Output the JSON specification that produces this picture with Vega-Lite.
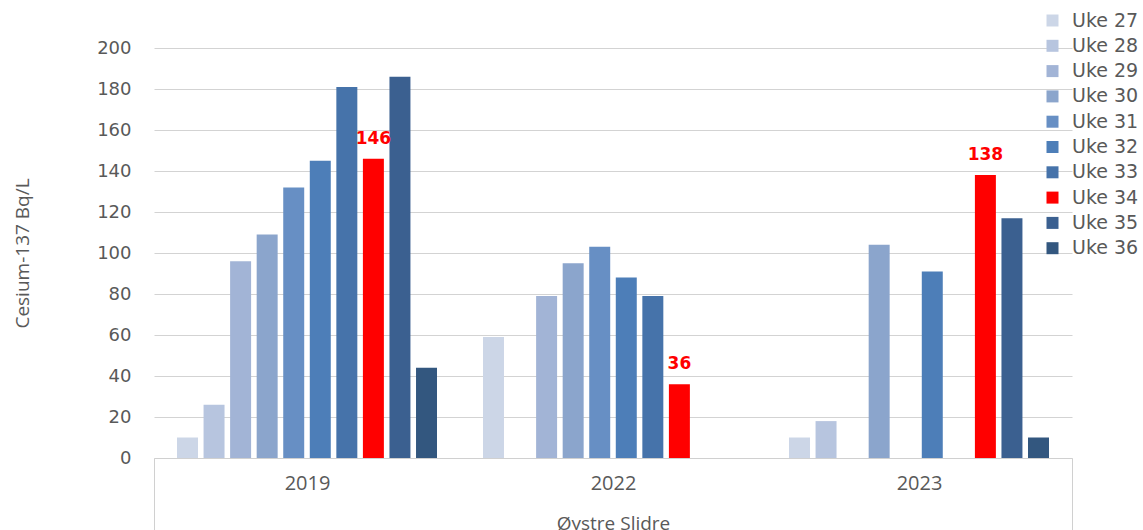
{
  "$schema": "https://vega.github.io/schema/vega-lite/v6.json",
  "width": 918,
  "height": 410,
  "autosize": "none",
  "padding": {"left": 154, "top": 48, "right": 71, "bottom": 72},
  "background": "white",
  "config": {
    "view": {"stroke": null},
    "font": "DejaVu Sans"
  },
  "data": {
    "values": [
      {"year": "2019", "uke": "Uke 27", "value": 10},
      {"year": "2019", "uke": "Uke 28", "value": 26},
      {"year": "2019", "uke": "Uke 29", "value": 96},
      {"year": "2019", "uke": "Uke 30", "value": 109},
      {"year": "2019", "uke": "Uke 31", "value": 132},
      {"year": "2019", "uke": "Uke 32", "value": 145},
      {"year": "2019", "uke": "Uke 33", "value": 181},
      {"year": "2019", "uke": "Uke 34", "value": 146},
      {"year": "2019", "uke": "Uke 35", "value": 186},
      {"year": "2019", "uke": "Uke 36", "value": 44},
      {"year": "2022", "uke": "Uke 27", "value": 59},
      {"year": "2022", "uke": "Uke 29", "value": 79},
      {"year": "2022", "uke": "Uke 30", "value": 95},
      {"year": "2022", "uke": "Uke 31", "value": 103},
      {"year": "2022", "uke": "Uke 32", "value": 88},
      {"year": "2022", "uke": "Uke 33", "value": 79},
      {"year": "2022", "uke": "Uke 34", "value": 36},
      {"year": "2023", "uke": "Uke 27", "value": 10},
      {"year": "2023", "uke": "Uke 28", "value": 18},
      {"year": "2023", "uke": "Uke 30", "value": 104},
      {"year": "2023", "uke": "Uke 32", "value": 91},
      {"year": "2023", "uke": "Uke 34", "value": 138},
      {"year": "2023", "uke": "Uke 35", "value": 117},
      {"year": "2023", "uke": "Uke 36", "value": 10}
    ]
  },
  "encoding": {
    "x": {
      "field": "year",
      "type": "nominal",
      "scale": {"paddingInner": 0, "paddingOuter": 0},
      "axis": {
        "title": "Øystre Slidre",
        "titleFont": "Open Sans",
        "titleFontSize": 19,
        "titleFontWeight": "normal",
        "titleColor": "#595959",
        "titlePadding": -16,
        "labelAngle": 0,
        "labelFont": "Open Sans",
        "labelFontSize": 20,
        "labelColor": "#595959",
        "labelPadding": -57,
        "domainColor": "#d0d0d0",
        "domainWidth": 1,
        "tickBand": "extent",
        "tickSize": 72,
        "tickColor": "#d0d0d0",
        "tickWidth": 1,
        "tickOpacity": {"condition": {"test": "datum.value === '2019' || datum.value === '2022'", "value": 0}, "value": 1}
      }
    },
    "xOffset": {
      "field": "uke",
      "type": "nominal",
      "scale": {
        "domain": ["Uke 27", "Uke 28", "Uke 29", "Uke 30", "Uke 31", "Uke 32", "Uke 33", "Uke 34", "Uke 35", "Uke 36"],
        "paddingInner": 0.21,
        "paddingOuter": 0.866
      }
    },
    "y": {
      "field": "value",
      "type": "quantitative",
      "scale": {"domain": [0, 200]},
      "axis": {
        "title": "Cesium-137 Bq/L",
        "titleFont": "Open Sans",
        "titleFontSize": 19,
        "titleFontWeight": "normal",
        "titleColor": "#595959",
        "titlePadding": 64,
        "values": [0, 20, 40, 60, 80, 100, 120, 140, 160, 180, 200],
        "labelFont": "DejaVu Sans",
        "labelFontSize": 18,
        "labelColor": "#595959",
        "labelPadding": 23,
        "ticks": false,
        "domain": false,
        "gridColor": "#d3d3d3",
        "gridWidth": 1
      }
    }
  },
  "layer": [
    {
      "mark": {"type": "bar"},
      "encoding": {
        "color": {
          "field": "uke",
          "type": "nominal",
          "scale": {
            "domain": ["Uke 27", "Uke 28", "Uke 29", "Uke 30", "Uke 31", "Uke 32", "Uke 33", "Uke 34", "Uke 35", "Uke 36"],
            "range": ["#ccd6e7", "#b7c5df", "#a2b4d6", "#8ba5cc", "#678fc4", "#4d7eb8", "#4673aa", "#ff0000", "#3b6090", "#33577f"]
          },
          "legend": {
            "title": null,
            "orient": "none",
            "legendX": 889,
            "legendY": -37,
            "symbolType": "square",
            "symbolSize": 144,
            "symbolStrokeWidth": 0,
            "labelFont": "DejaVu Sans",
            "labelFontSize": 19,
            "labelColor": "#595959",
            "labelOffset": 10,
            "rowPadding": 5.3
          }
        }
      }
    },
    {
      "transform": [{"filter": "datum.uke === 'Uke 34'"}],
      "mark": {
        "type": "text",
        "font": "DejaVu Sans",
        "fontSize": 17,
        "fontWeight": "bold",
        "color": "#ff0000",
        "baseline": "alphabetic",
        "dy": -15
      },
      "encoding": {
        "text": {"field": "value", "type": "quantitative"}
      }
    }
  ]
}
